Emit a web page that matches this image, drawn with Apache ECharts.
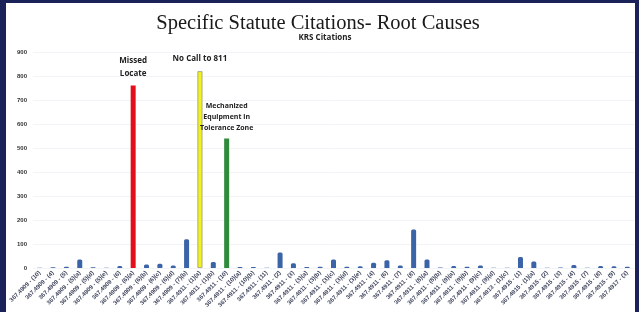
<!DOCTYPE html>
<html>
<head>
<meta charset="utf-8">
<script src="https://cdn.jsdelivr.net/npm/echarts@6/dist/echarts.min.js"></script>
<style>
html,body{margin:0;padding:0;background:#fff;}
#c{width:639px;height:312px;}
</style>
</head>
<body>
<div id="c"></div>
<script>
const categories = [
  "367.4909 - (10)","367.4909 - (4)","367.4909 - (5)","367.4909 - (5)(a)","367.4909 - (5)(d)",
  "367.4909 - (5)(e)","367.4909 - (6)","367.4909 - (6)(a)","367.4909 - (6)(b)","367.4909 - (6)(c)",
  "367.4909 - (6)(d)","367.4909 - (7)(b)","367.4911 - (1)(a)","367.4911 - (1)(b)","367.4911 - (10)",
  "367.4911 - (10)(a)","367.4911 - (10)(b)","367.4911 - (11)","367.4911 - (2)","367.4911 - (3)",
  "367.4911 - (3)(a)","367.4911 - (3)(b)","367.4911 - (3)(c)","367.4911 - (3)(d)","367.4911 - (3)(e)",
  "367.4911 - (4)","367.4911 - (6)","367.4911 - (7)","367.4911 - (8)","367.4911 - (8)(a)",
  "367.4911 - (8)(b)","367.4911 - (9)(a)","367.4911 - (9)(b)","367.4911 - (9)(c)","367.4911 - (9)(d)",
  "367.4913 - (1)(c)","367.4915 - (1)","367.4915 - (1)(a)","367.4915 - (2)","367.4915 - (3)",
  "367.4915 - (4)","367.4915 - (7)","367.4915 - (8)","367.4915 - (9)","367.4917 - (3)"
];
const citations = [
  1, 3, 5, 35, 3,
  1, 8, 760, 15, 18,
  10, 120, 820, 25, 540,
  4, 4, 1, 65, 20,
  4, 5, 35, 5, 7,
  22, 32, 10, 160, 35,
  2, 8, 5, 10, 1,
  1, 46, 27, 1, 2,
  12, 1, 8, 7, 5
];
const yTicks = [0, 100, 200, 300, 400, 500, 600, 700, 800, 900];
const highlightIndex = [7, 12, 14];
const highlightNotes = ["Missed\nLocate", "No Call to 811", "Mechanized\nEquipment in\nTolerance Zone"];

const highlightColors = ["#e3101b", "#f2f21c", "#2f8b3b"];
const blue = "#3b63a7";

const data = citations.map((v, i) => {
  const h = highlightIndex.indexOf(i);
  if (h < 0) return { value: v, itemStyle: { color: blue, borderRadius: [1.5,1.5,0,0] } };
  return {
    value: v,
    itemStyle: { color: highlightColors[h], borderColor: h === 1 ? "#9a9a7a" : highlightColors[h], borderWidth: h === 1 ? 0.8 : 0 },
    label: {
      show: true, position: "top", distance: h === 1 ? 6 : 5,
      formatter: highlightNotes[h],
      fontFamily: "Open Sans", fontWeight: "bold", fontSize: h === 2 ? 7 : 8,
      lineHeight: h === 2 ? 11 : 13, color: "#222", align: "center"
    }
  };
});

const chart = echarts.init(document.getElementById("c"), null, { renderer: "canvas" });
chart.setOption({
  animation: false,
  backgroundColor: "#ffffff",
  title: [
    { text: "Specific Statute Citations- Root Causes", left: 313, textAlign: "center", top: 8,
      textStyle: { fontFamily: "Liberation Serif", fontWeight: "normal", fontSize: 20.5, color: "#1a1a1a" } },
    { text: "KRS Citations", left: 320, textAlign: "center", top: 29,
      textStyle: { fontFamily: "Open Sans", fontWeight: "bold", fontSize: 8, color: "#222" } }
  ],
  grid: { left: 33, right: 5, top: 52, bottom: 44 },
  xAxis: {
    type: "category", data: categories,
    axisLine: { show: false },
    axisTick: { show: false },
    axisLabel: { interval: 0, rotate: 45, margin: 4, fontSize: 6, fontWeight: "bold",
      fontFamily: "Liberation Sans", color: "#3f445c" }
  },
  yAxis: {
    type: "value", min: 0, max: 900, interval: 100,
    axisLine: { show: false }, axisTick: { show: false },
    splitLine: { lineStyle: { color: "#f3f4f8", width: 1 } },
    axisLabel: { margin: 6, fontSize: 6, fontWeight: "bold", fontFamily: "Liberation Sans", color: "#333",
      formatter: v => yTicks.indexOf(v) >= 0 ? String(v) : "" }
  },
  series: [{ type: "bar", data: data, barWidth: 5 }],
  graphic: [
    { type: "rect", shape: { x: 0, y: 0, width: 6, height: 312 }, style: { fill: "#1b2259" }, silent: true },
    { type: "rect", shape: { x: 0, y: 0, width: 639, height: 3 }, style: { fill: "#1b2259" }, silent: true },
    { type: "rect", shape: { x: 635, y: 0, width: 4, height: 312 }, style: { fill: "#1b2259" }, silent: true }
  ]
});
</script>
</body>
</html>
